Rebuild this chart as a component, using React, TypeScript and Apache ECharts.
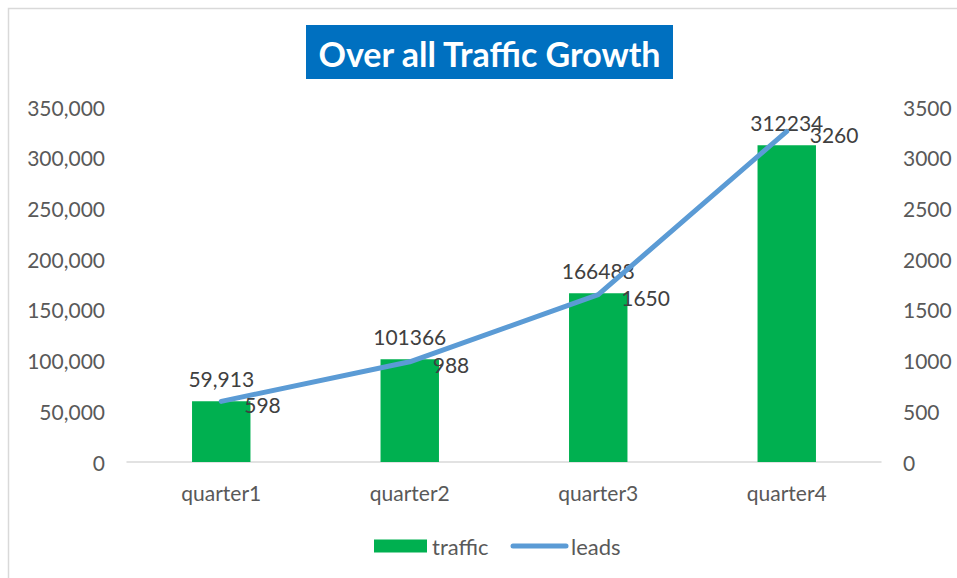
import React, { useEffect, useRef } from "react";
import * as echarts from "echarts";

const categories = ["quarter1", "quarter2", "quarter3", "quarter4"];
const trafficValues = [59913, 101366, 166488, 312234];
const trafficLabels = ["59,913", "101366", "166488", "312234"];
const leadsValues = [598, 988, 1650, 3260];
const titleText = "Over all Traffic Growth";

const FONT = "Lato, 'Noto Sans', sans-serif";

export default function App() {
  const ref = useRef<HTMLDivElement>(null);
  useEffect(() => {
    if (!ref.current) return;
    const chart = echarts.init(ref.current, undefined, { renderer: "svg" });
    chart.setOption({
      animation: false,
      backgroundColor: "#ffffff",
      textStyle: { fontFamily: FONT },
      graphic: [
        {
          type: "rect",
          shape: { x: 8.5, y: 8.5, width: 1200, height: 1000 },
          style: { fill: "none", stroke: "#d9d9d9", lineWidth: 1.5 },
          silent: true,
        },
        {
          type: "rect",
          shape: { x: 306, y: 25, width: 367, height: 54 },
          style: { fill: "#0070C0" },
        },
        {
          type: "text",
          x: 489.5,
          y: 53,
          style: {
            text: titleText,
            fill: "#ffffff",
            font: `bold 34px ${FONT}`,
            align: "center",
            verticalAlign: "middle",
          },
        },
      ],
      legend: {
        bottom: 16,
        left: 369,
        itemWidth: 53,
        itemHeight: 13,
        itemGap: 22,
        textStyle: { color: "#595959", fontSize: 22, fontFamily: FONT },
        data: [
          { name: "traffic", icon: "rect" },
          {
            name: "leads",
            itemStyle: { opacity: 0 },
            lineStyle: { width: 5, cap: "round", color: "#5B9BD5" },
          },
        ],
      },
      grid: { left: 127, right: 76, top: 107, bottom: 116, containLabel: false },
      xAxis: {
        type: "category",
        data: categories,
        axisTick: { show: false },
        axisLine: { lineStyle: { color: "#d9d9d9", width: 1.5 } },
        axisLabel: { color: "#595959", fontSize: 21, margin: 20, fontFamily: FONT },
      },
      yAxis: [
        {
          type: "value",
          min: 0,
          max: 350000,
          interval: 50000,
          splitLine: { show: false },
          axisLine: { show: false },
          axisTick: { show: false },
          axisLabel: {
            color: "#595959",
            fontSize: 21,
            margin: 22,
            fontFamily: FONT,
            formatter: (v: number) => v.toLocaleString("en-US"),
          },
        },
        {
          type: "value",
          min: 0,
          max: 3500,
          interval: 500,
          position: "right",
          splitLine: { show: false },
          axisLine: { show: false },
          axisTick: { show: false },
          axisLabel: {
            color: "#595959",
            fontSize: 21,
            margin: 22,
            fontFamily: FONT,
            formatter: (v: number) => String(v),
          },
        },
      ],
      series: [
        {
          name: "traffic",
          type: "bar",
          data: trafficValues,
          barWidth: "31%",
          itemStyle: { color: "#00B050" },
          label: {
            show: true,
            position: "top",
            distance: 12,
            color: "#404040",
            fontSize: 21,
            fontFamily: FONT,
            formatter: (p: any) => trafficLabels[p.dataIndex],
          },
        },
        {
          name: "leads",
          type: "line",
          yAxisIndex: 1,
          data: leadsValues,
          symbol: "none",
          lineStyle: { color: "#5B9BD5", width: 5, cap: "round", join: "round" },
          itemStyle: { color: "#5B9BD5" },
          z: 3,
        },
        {
          name: "leadsLabels",
          type: "scatter",
          yAxisIndex: 1,
          data: leadsValues,
          symbolSize: 0,
          silent: true,
          z: 4,
          itemStyle: { color: "#5B9BD5", opacity: 1 },
          label: {
            show: true,
            position: "right",
            distance: 23,
            offset: [0, 3],
            color: "#404040",
            fontSize: 21,
            fontFamily: FONT,
          },
        },
      ],
    });
    return () => chart.dispose();
  }, []);
  return (
    <div
      ref={ref}
      style={{ position: "fixed", left: 0, top: 0, width: 957, height: 578 }}
    />
  );
}
